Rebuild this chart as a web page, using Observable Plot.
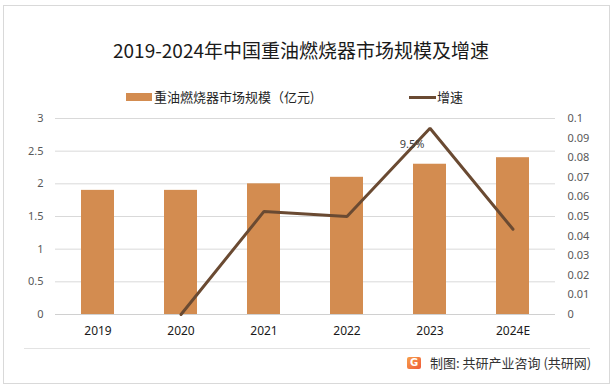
<!DOCTYPE html>
<html>
<head>
<meta charset="utf-8">
<script src="https://cdn.jsdelivr.net/npm/d3@7"></script>
<script src="https://cdn.jsdelivr.net/npm/@observablehq/plot@0.6"></script>
<style>
  html, body { margin: 0; padding: 0; background: #fff; }
  #wrap { position: relative; width: 613px; height: 389px; overflow: hidden; font-family: "Noto Sans CJK SC", "Noto Sans", sans-serif; }
  #frame { position: absolute; left: 3px; top: 5px; border: 1px solid #d9d9d9; box-sizing: border-box; width: 607px; height: 379px; }
  #sep { position: absolute; left: 24px; top: 348px; width: 566px; height: 1px; background: #e3e3e3; }
  #title { position: absolute; left: 0; width: 602px; top: 37px; text-align: center; font-size: 19px; color: #1a1a1a; line-height: 26px; white-space: nowrap; }
  .leg { position: absolute; font-size: 13px; color: #262626; line-height: 18px; top: 88px; white-space: nowrap; }
  #sw1 { position: absolute; left: 126px; top: 93px; width: 26px; height: 8px; background: #D38C50; }
  #sw2 { position: absolute; left: 409px; top: 96px; width: 27px; height: 3px; background: #6a4a32; }
  #cap { position: absolute; left: 430px; top: 353px; font-size: 13px; color: #333; line-height: 20px; white-space: nowrap; }
  #logo { position: absolute; left: 407px; top: 357px; width: 14px; height: 12px; border-radius: 2px; background: linear-gradient(135deg, #f7a04a, #ef5a3a); color: #fff; font: bold 10px/12px "DejaVu Sans", sans-serif; text-align: center; }
  #plot { position: absolute; left: 0; top: 0; }
</style>
</head>
<body>
<div id="wrap">
  <div id="frame"></div>
  <div id="sep"></div>
  <div id="title">2019-2024年中国重油燃烧器市场规模及增速</div>
  <div id="sw1"></div>
  <div class="leg" style="left:154px;">重油燃烧器市场规模（亿元)</div>
  <div id="sw2"></div>
  <div class="leg" style="left:437px;">增速</div>
  <div id="plot"></div>
  <div id="logo">G</div>
  <div id="cap">制图: 共研产业咨询 (共研网)</div>
</div>
<script>
const years = ["2019", "2020", "2021", "2022", "2023", "2024E"];
const marketSize = [1.9, 1.9, 2.0, 2.1, 2.3, 2.4];
const growthYears = ["2020", "2021", "2022", "2023", "2024E"];
const growth = [0, 0.0526, 0.05, 0.095, 0.0435];
const leftTicks = [0, 0.5, 1, 1.5, 2, 2.5, 3];
const rightTicks = [0, 0.01, 0.02, 0.03, 0.04, 0.05, 0.06, 0.07, 0.08, 0.09, 0.1];
const labelYear = "2023";
const labelText = "9.5%";

const k = 30; // right axis (0–0.1) mapped onto left axis (0–3)
const bars = years.map((y, i) => ({year: y, v: marketSize[i]}));
const line = growthYears.map((y, i) => ({year: y, g: growth[i] * k}));
const lab = line.filter(d => d.year === labelYear);

const chart = Plot.plot({
  width: 613,
  height: 389,
  marginTop: 118,
  marginBottom: 75,
  marginLeft: 55,
  marginRight: 58,
  style: {background: "transparent", fontFamily: "'Noto Sans', sans-serif", overflow: "visible"},
  x: {domain: years, paddingInner: 0.6, paddingOuter: 0.3, axis: null, label: null},
  y: {domain: [0, 3], nice: false, axis: null, label: null},
  marks: [
    Plot.ruleY(leftTicks.filter(d => d > 0), {stroke: "#d9d9d9", strokeWidth: 1}),
    Plot.ruleY([0], {stroke: "#d0d0d0", strokeWidth: 1}),
    Plot.barY(bars, {x: "year", y: "v", fill: "#D38C50"}),
    Plot.line(line, {x: "year", y: "g", stroke: "#6a4a32", strokeWidth: 3, strokeLinejoin: "miter"}),
    Plot.text(lab, {x: "year", y: "g", text: () => labelText, dx: -18, dy: 16, fontSize: 11, fill: "#404040"}),
    Plot.axisY({ticks: leftTicks, tickSize: 0, tickPadding: 12, tickFormat: d => String(d), fontSize: 11, color: "#595959", label: null}),
    Plot.axisY({anchor: "right", ticks: rightTicks.map(d => d * k), tickSize: 0, tickPadding: 12,
      tickFormat: d => String(Math.round(d / k * 100) / 100), fontSize: 11, color: "#595959", textAnchor: "start", label: null}),
    Plot.axisX({tickSize: 0, tickPadding: 12, fontSize: 12, color: "#1a1a1a", label: null})
  ]
});
document.getElementById("plot").appendChild(chart);
</script>
</body>
</html>
